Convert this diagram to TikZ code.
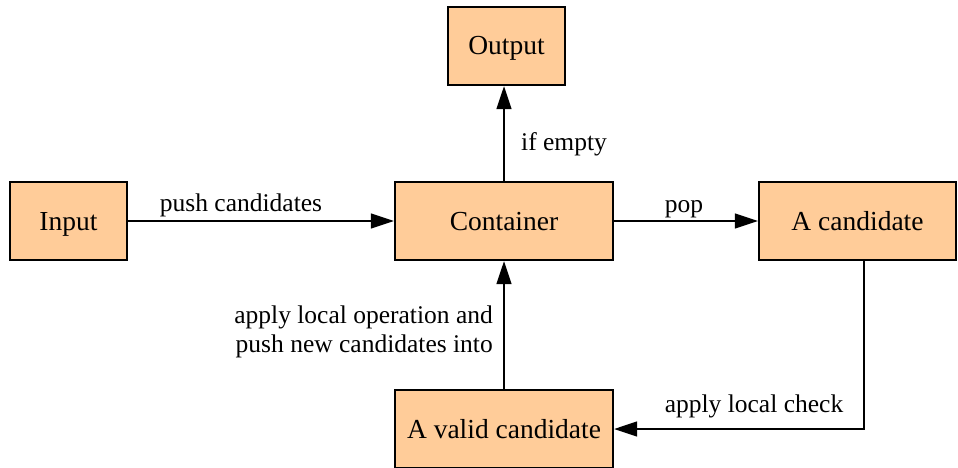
\documentclass[tikz,border=0pt]{standalone}
\usepackage{fontspec}
\newfontfamily\tnr{Liberation Serif}
\usetikzlibrary{arrows.meta}
\definecolor{boxfill}{HTML}{FFCC99}
\tikzset{
  box/.style={draw=black, line width=2.4pt, fill=boxfill, minimum height=78pt, inner sep=0pt, text height=18pt, text depth=0pt, font=\tnr\fontsize{27.5}{30}\selectfont},
  conn/.style={line width=1.4pt, -{Triangle[length=23pt,width=15pt]}},
  lbl/.style={font=\tnr\fontsize{25.5}{29.5}\selectfont, inner sep=0pt}
}
\begin{document}
\begin{tikzpicture}[x=1pt,y=-1pt]
\useasboundingbox (0,0) rectangle (958,468);
\node[box, minimum width=117pt] (out) at (506.5,46) {Output};
\node[box, minimum width=117pt] (in) at (68.5,221) {Input};
\node[box, minimum width=218pt] (cont) at (504,221) {Container};
\node[box, minimum width=197pt] (cand) at (857.5,221) {A candidate};
\node[box, minimum width=218pt] (valid) at (504,429) {A valid candidate};

\draw[conn] (cont.north) -- (cont.north |- out.south);
\draw[conn] (in.east) -- (cont.west);
\draw[conn] (cont.east) -- (cand.west);
\draw[conn] ([xshift=6.5pt]cand.south) |- (valid.east);
\draw[conn] (valid.north) -- (cont.south);

\node[lbl, anchor=base west] (l1) at (521,150) {if empty};
\node[lbl, anchor=base] (l2) at (241,211) {push candidates};
\node[lbl, anchor=base] (l3) at (684,212) {pop};
\node[lbl, anchor=base] (l4) at (754,412) {apply local check};
\node[lbl, anchor=east, align=right] (l5) at (493,332) {apply local operation and\\push new candidates into};
\end{tikzpicture}
\end{document}
